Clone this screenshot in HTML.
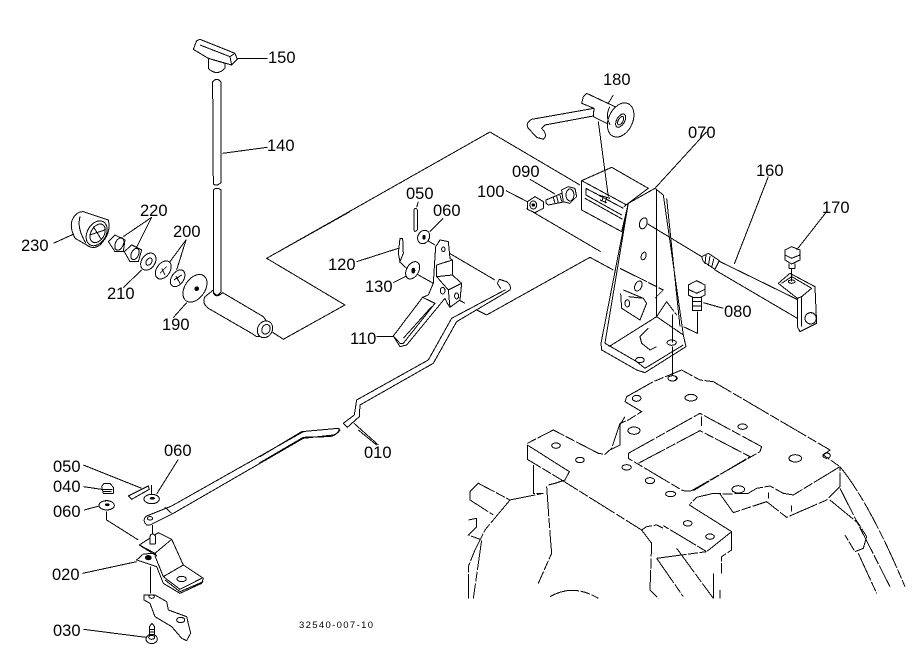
<!DOCTYPE html>
<html><head><meta charset="utf-8"><style>
html,body{margin:0;padding:0;background:#fff;width:919px;height:668px;overflow:hidden}
svg{display:block}
text{font-family:"Liberation Sans",sans-serif;font-size:16.5px;fill:#000}
.g{fill:#fff;stroke:#000;stroke-width:3;stroke-linejoin:round;stroke-linecap:round}
.n{fill:none;stroke:#000;stroke-width:3;stroke-linejoin:round}
.t{fill:none;stroke:#000;stroke-width:3;stroke-dasharray:90 5 30 5}
.c{shape-rendering:crispEdges}
</style></head><body>
<svg width="919" height="668" viewBox="0 0 919 668" xmlns="http://www.w3.org/2000/svg">
<rect width="919" height="668" fill="#fff"/>

<!-- zoom 1 region -->
<g class="c" transform="translate(0,20) scale(.3333)">
<path class="n" d="M815 935L850 958L1035 855L800 715L1050 575"/>
<path class="g" d="M625 115V145Q650 170 675 145V130Z"/>
<path class="g" d="M580 88L590 62L600 58L705 100L712 118L695 135L625 115Z"/>
<path class="n" d="M600 75L690 110L695 135M690 110L705 100"/>
<path class="n" d="M712 115H802"/>
<path class="n" d="M668 400L802 382"/>
<path class="g" d="M638 186Q650 170 663 186V488Q650 500 640 492Z"/>
<path class="n" d="M639 285V370"/>
<path class="g" d="M640 510Q650 500 663 510V815Q650 835 640 815Z"/>
<path class="g" d="M668 818L790 890L815 925L800 950L770 950L755 940L625 865Q605 850 615 830L640 810V820Q650 835 665 820Z"/>
<ellipse class="g" cx="795" cy="928" rx="22" ry="26" transform="rotate(30 795 928)"/>
<ellipse class="n" cx="798" cy="928" rx="12" ry="15" transform="rotate(30 798 928)"/>
<!-- 230 -->
<path class="g" d="M215 605Q225 575 250 575L325 600Q335 640 300 675Q280 690 260 675L225 655Q210 625 215 605Z"/>
<ellipse class="n" cx="290" cy="640" rx="28" ry="40" transform="rotate(30 290 640)"/>
<ellipse class="n" cx="293" cy="640" rx="20" ry="30" transform="rotate(30 293 640)"/>
<path class="n" d="M280 620L305 660M270 645L315 630M240 590Q230 625 258 670"/>
<path class="n" d="M160 670L222 642"/>
<!-- 220 -->
<path class="g" d="M325 665L345 645L375 660L370 695L345 695Z"/>
<ellipse class="n" cx="358" cy="672" rx="12" ry="20" transform="rotate(25 358 672)"/>
<path class="g" d="M373 695L395 675L425 690L415 725L390 725Z"/>
<ellipse class="n" cx="405" cy="702" rx="11" ry="18" transform="rotate(25 405 702)"/>
<path class="n" d="M370 650L455 592L410 682"/>
<!-- 210 -->
<ellipse class="g" cx="445" cy="725" rx="20" ry="28" transform="rotate(35 445 725)"/>
<ellipse class="n" cx="447" cy="725" rx="8" ry="12" transform="rotate(35 447 725)"/>
<path class="n" d="M425 750L370 803"/>
<!-- 200 -->
<ellipse class="g" cx="490" cy="750" rx="20" ry="30" transform="rotate(35 490 750)"/>
<path class="n" d="M480 760L500 740M485 745L495 765"/>
<ellipse class="g" cx="533" cy="775" rx="18" ry="28" transform="rotate(35 533 775)"/>
<path class="n" d="M522 780L545 765M528 768L540 790"/>
<path class="n" d="M510 725L558 660L530 750"/>
<!-- 190 -->
<ellipse class="g" cx="585" cy="805" rx="30" ry="46" transform="rotate(35 585 805)"/>
<circle cx="590" cy="806" r="7" fill="#000"/>
<path class="n" d="M560 848L520 893"/>
</g>
<g>
<text x="268" y="63">150</text>
<text x="267" y="151">140</text>
<text x="140" y="216">220</text>
<text x="173" y="237">200</text>
<text x="21" y="251">230</text>
<text x="107" y="299">210</text>
<text x="162" y="330">190</text>
</g>

<!-- zoom 2 region -->
<g class="c" transform="translate(260,120) scale(.3333)">
<path class="n" d="M20 415L690 36L960 195M800 265L1022 395"/>
<path class="n" d="M680 585L990 412L1060 450M680 585L650 570M615 550L570 525"/>
<path class="n" d="M560 395L705 480M500 360L525 375M470 462L520 490"/>
<!-- 010 rod -->
<path class="g" style="fill:none" d="M735 510L575 595L505 720L290 840L283 885L250 910L262 922L298 890L300 855L520 730L590 605L750 510Q755 495 740 485L718 478L712 490L722 505"/>
<path class="n" d="M282 910L355 975"/>
<path class="g" style="fill:none" d="M235 925L125 935L0 1010M235 935Q240 925 235 925M235 935Q225 950 205 950L130 952L0 1028"/>
<!-- 110 -->
<path class="g" d="M527 380L540 360L565 365L570 415L577 420V465L605 490L600 540L570 562L562 550L555 535L440 675L420 680L400 648L488 532L505 525L520 490Z"/>
<path class="n" d="M530 435L577 420M530 435V470L565 510L605 490M530 470L577 465M565 510L570 562"/>
<path class="n" d="M488 532L525 550L430 670M515 560L430 655M400 648L420 670L430 670"/>
<ellipse class="n" cx="550" cy="388" rx="5" ry="7"/>
<ellipse class="n" cx="548" cy="512" rx="7" ry="10"/>
<ellipse class="n" cx="590" cy="528" rx="6" ry="9"/>
<path class="n" d="M350 650H400"/>
<!-- 050, 060 -->
<path class="g" d="M462 270Q467 260 472 270V330L465 335L462 330Z"/>
<path class="n" d="M475 245L470 262"/>
<ellipse class="g" cx="491" cy="351" rx="17" ry="21" transform="rotate(30 491 351)"/>
<ellipse cx="492" cy="352" rx="5" ry="7" fill="#000"/>
<path class="n" d="M510 335L550 295"/>
<!-- 120, 130 -->
<path class="g" d="M420 355H428L430 400L420 425L415 400Z"/>
<path class="n" d="M290 425L415 385M418 425L440 445"/>
<ellipse class="g" cx="458" cy="451" rx="18" ry="28" transform="rotate(30 458 451)"/>
<ellipse cx="460" cy="452" rx="6" ry="9" fill="#000"/>
<path class="n" d="M400 488L440 468"/>
<!-- 100 090 -->
<path class="g" d="M802 245L825 230L850 245L850 265L825 278L802 268Z"/>
<ellipse class="n" cx="820" cy="255" rx="10" ry="12"/>
<circle cx="820" cy="255" r="5" fill="#000"/>
<path class="n" d="M738 212L802 245"/>
<path class="n" d="M810 178L885 222"/>
<path class="g" d="M858 240L905 220L915 245L865 255Q855 250 858 240Z"/>
<path class="n" d="M880 232L885 250M890 228L895 248M900 225L905 245"/>
<path class="g" d="M905 210L925 200L945 205L950 230L930 250L910 245Z"/>
<ellipse class="n" cx="930" cy="225" rx="12" ry="18"/>
</g>
<g>
<text x="406" y="199">050</text>
<text x="433" y="216">060</text>
<text x="328" y="270">120</text>
<text x="365" y="292">130</text>
<text x="350" y="344">110</text>
<text x="477" y="197">100</text>
<text x="512" y="177">090</text>
<text x="364" y="458">010</text>
</g>

<!-- zoom 3 region -->
<g class="c" transform="translate(500,60) scale(.3333)">
<path class="n" d="M340 105L325 130"/>
<!-- 180 -->
<path class="g" d="M135 195L280 168L282 145L95 178Q75 190 85 205L110 232L130 238Q145 225 125 205L135 195Z"/>
<path class="g" d="M260 100L345 140L330 195L280 170L282 145L245 130L250 110Z"/>
<ellipse class="g" cx="362" cy="180" rx="36" ry="54" transform="rotate(25 362 180)"/>
<ellipse class="n" cx="362" cy="182" rx="12" ry="22" transform="rotate(30 362 182)"/>
<ellipse class="n" cx="362" cy="182" rx="7" ry="14" transform="rotate(30 362 182)"/>
<path class="n" d="M330 140Q315 165 330 195"/>
<!-- box behind -->
<path class="g" d="M245 362L335 322L445 385L385 430L365 515L245 450Z"/>
<path class="n" d="M245 362L380 435M258 385L370 445M258 385V405L365 465M255 415L368 478"/>
<path class="n" d="M295 405L330 415M300 420L320 428M310 410L305 425M320 412L315 430"/>
<path class="n" d="M295 185L325 410"/>
<!-- 070 -->
<path class="g" d="M385 430L465 385L490 405L550 825L558 860L435 938L410 930L305 870L303 850Z"/>
<path class="n" d="M372 440L385 430M470 390V770M327 860L470 770L550 825M500 415L540 800M385 430L315 850L410 905L435 925L550 855"/>
<path class="t" d="M360 625L490 690L465 715"/>
<path class="n" d="M370 690L430 715L440 730L420 780L365 745L362 700M385 710L430 715"/>
<path class="t" d="M470 770L500 725L530 765M420 830L445 805M420 830L425 850L450 870L470 860"/>
<ellipse class="n" cx="430" cy="490" rx="11" ry="17" transform="rotate(20 430 490)"/>
<path class="n" d="M440 490L605 590"/>
<ellipse class="n" cx="431" cy="588" rx="7" ry="12" transform="rotate(20 431 588)"/>
<ellipse class="n" cx="415" cy="678" rx="10" ry="16" transform="rotate(25 415 678)"/>
<ellipse class="n" cx="382" cy="730" rx="7" ry="11"/>
<ellipse class="n" cx="515" cy="848" rx="14" ry="8"/>
<ellipse class="n" cx="420" cy="900" rx="13" ry="8"/>
<ellipse class="n" cx="517" cy="955" rx="13" ry="8"/>
<path class="n" d="M517 763V848M517 860V945"/>
<path class="n" d="M465 385L620 215"/>
<!-- 160 -->
<path class="g" d="M650 600L895 720L892 775L645 630Q640 615 650 600Z"/>
<path class="g" d="M605 590L625 580L658 602L645 628L610 605Z"/>
<path class="n" d="M618 585L615 612M630 588L625 618M642 595L635 622"/>
<path class="n" d="M703 612L805 350"/>
<path class="g" d="M835 670L870 640L945 680L950 790L900 815L892 800V715Z"/>
<path class="n" d="M845 670L875 650L935 685L905 710L892 715M905 710V800"/>
<circle class="g" cx="932" cy="775" r="17"/>
<ellipse cx="875" cy="665" rx="10" ry="5" class="n"/>
<!-- 170 -->
<path class="g" d="M855 570L875 560L900 570L900 600L875 612L855 600Z"/>
<path class="n" d="M855 585L875 595L900 585M867 610V625H885V610M875 625V665"/>
<path class="n" d="M890 570L980 455"/>
<!-- 080 -->
<path class="g" d="M565 675L590 662L615 675V705L590 718L565 705Z"/>
<path class="n" d="M565 688L590 700L615 688"/>
<path class="g" d="M578 712H605V752H578Z"/>
<path class="n" d="M578 725H605M578 738H605"/>
<path class="n" d="M592 755V820L550 800"/>
<path class="n" d="M610 728L670 745"/>
</g>
<g>
<text x="603" y="85">180</text>
<text x="688" y="138">070</text>
<text x="756" y="176">160</text>
<text x="822" y="213">170</text>
<text x="724" y="317">080</text>
</g>

<!-- zoom 4 housing -->
<g class="c" transform="translate(450,360) scale(.3333)">
<path class="t" d="M530 110L610 65L695 30L750 60L790 65L1140 270L1120 285L1170 320L1030 405L1000 400L960 378L920 385L895 400L830 402L790 400L740 412L718 435L845 515L770 575L640 497"/>
<path class="t" d="M530 110L525 125L575 155L535 180L510 190L485 265L465 283L445 280L310 210L232 250V298L335 360L575 510L590 500L620 495L640 505"/>
<path class="n" d="M232 255L358 335L345 360L315 370L295 375"/>
<path class="t" d="M810 402L850 458L950 425L1010 472L1130 420L1170 380V320M718 435L845 515V570L815 590V640"/>
<path class="t" d="M575 510L605 550L600 690L625 715M620 595L770 575M620 595L700 710M680 565L790 715M810 690V715M790 640V715"/>
<path class="t" d="M250 315V400H280M290 380L300 520L305 580L265 670"/>
<path class="t" d="M60 395L85 370L180 420L280 400M60 395V420L130 465M180 420L105 510L75 570L55 620V715M55 480L80 475V500L55 525L95 540L70 715"/>
<path class="t" d="M300 710Q370 670 445 715"/>
<path class="t" d="M535 280L750 160L935 260L930 275L725 392Q705 395 695 390L535 295Z"/>
<path class="t" d="M565 310L750 212L900 290L730 392"/>
<path class="n" d="M755 170V198M955 397V415M1024 437V455M510 195V255L480 270M510 195L525 170"/>
<path class="t" d="M1170 320Q1260 430 1365 680M1170 385L1320 680M1140 420L1225 490L1250 530L1240 565L1215 575L1185 525M1225 580L1280 700"/>
<g class="n">
<ellipse cx="668" cy="55" rx="14" ry="8"/>
<ellipse cx="560" cy="115" rx="13" ry="9"/>
<ellipse cx="723" cy="113" rx="18" ry="10"/>
<ellipse cx="552" cy="212" rx="18" ry="11"/>
<ellipse cx="318" cy="257" rx="13" ry="8"/>
<ellipse cx="390" cy="300" rx="13" ry="8"/>
<ellipse cx="530" cy="322" rx="14" ry="8"/>
<ellipse cx="600" cy="362" rx="14" ry="9"/>
<ellipse cx="662" cy="402" rx="15" ry="8"/>
<ellipse cx="713" cy="490" rx="13" ry="8"/>
<ellipse cx="780" cy="530" rx="13" ry="8"/>
<ellipse cx="865" cy="388" rx="19" ry="11"/>
<ellipse cx="1036" cy="295" rx="19" ry="11"/>
<ellipse cx="878" cy="200" rx="14" ry="8"/>
<ellipse cx="1130" cy="287" rx="11" ry="8"/>
</g>
</g>

<!-- zoom 5 lower left -->
<g class="c" transform="translate(40,430) scale(.3333)">
<path class="g" style="fill:none" d="M790 5L395 228L385 232L320 258Q305 270 320 285L330 285L400 250L790 25L880 15Q895 10 900 0"/>
<path class="n" d="M375 232L395 250M955 0L1010 45"/>
<ellipse class="n" cx="330" cy="265" rx="8" ry="5"/>
<path class="n" d="M338 285V315"/>
<path class="g" d="M298 345L355 308L395 328L430 405L490 445L485 460L420 490L370 460L350 410L290 390L310 372L345 370L350 378Z"/>
<path class="n" d="M298 345L345 370L395 328M345 378L370 440L430 405M370 440L420 478L485 445M375 450L420 485L490 455"/>
<ellipse class="n" cx="425" cy="447" rx="14" ry="8"/>
<ellipse cx="325" cy="383" rx="10" ry="8" fill="#000"/>
<path class="g" d="M330 318Q338 305 346 318V342H330Z"/>
<path class="n" d="M200 245V270L295 330"/>
<path class="n" d="M332 410V490"/>
<path class="g" d="M312 495L345 495L380 515L385 540L440 560L452 610L440 632L425 625L395 590L345 560L330 520L312 510Z"/>
<ellipse class="n" cx="335" cy="500" rx="8" ry="5"/>
<ellipse class="n" cx="422" cy="570" rx="12" ry="8"/>
<path class="n" d="M130 105L305 175"/>
<path class="g" d="M265 198L325 168L328 178L275 208Z"/>
<path class="n" d="M335 165V195"/>
<ellipse class="g" cx="335" cy="207" rx="23" ry="14"/>
<ellipse cx="337" cy="205" rx="8" ry="4" fill="#000"/>
<path class="n" d="M350 192L415 88"/>
<path class="n" d="M130 170L185 178"/>
<path class="g" d="M185 170L192 160H210L220 172V190H190Z"/>
<path class="n" d="M185 178H218M190 185H215"/>
<path class="n" d="M132 240L178 228"/>
<ellipse class="g" cx="200" cy="226" rx="23" ry="14"/>
<ellipse cx="202" cy="224" rx="7" ry="4" fill="#000"/>
<path class="n" d="M128 430L290 395"/>
<path class="n" d="M130 598L318 622"/>
<path class="g" d="M328 590L336 580L344 590V615H328Z"/>
<path class="n" d="M328 598H344M328 606H344"/>
<ellipse class="g" cx="335" cy="627" rx="17" ry="14"/>
<ellipse class="n" cx="335" cy="622" rx="9" ry="6"/>
</g>
<g>
<text x="164" y="456">060</text>
<text x="53" y="472">050</text>
<text x="53" y="492">040</text>
<text x="53" y="517">060</text>
<text x="52" y="580">020</text>
<text x="53" y="636">030</text>
<text x="299" y="628" style="font-size:9.5px" textLength="74">32540-007-10</text>
</g>
</svg>
</body></html>
